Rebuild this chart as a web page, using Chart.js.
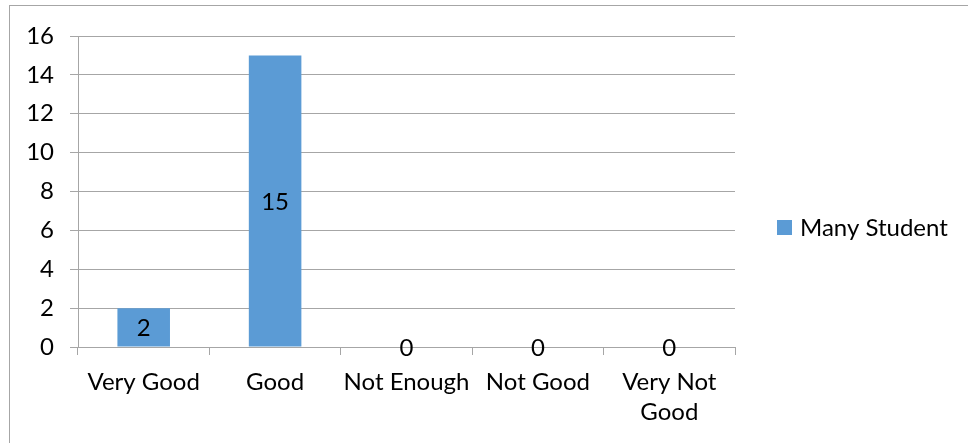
<!DOCTYPE html>
<html>
<head>
<meta charset="utf-8">
<script src="https://cdn.jsdelivr.net/npm/chart.js@4"></script>
<style>
  html, body { margin: 0; padding: 0; background: #fff; overflow: hidden; }
  #frame { position: absolute; left: 9px; top: 5px; width: 1000px; height: 500px; border: 1.5px solid #a6a6a6; box-sizing: border-box; }
  #wrap { position: absolute; left: 0; top: 0; width: 968px; height: 443px; }
</style>
</head>
<body>
<div id="frame"></div>
<div id="wrap"><canvas id="chart"></canvas></div>
<script>
// chart data
const categories = ['Very Good', 'Good', 'Not Enough', 'Not Good', ['Very Not', 'Good']];
const seriesName = 'Many Student';
const studentCounts = [2, 15, 0, 0, 0];
const yTicks = [0, 2, 4, 6, 8, 10, 12, 14, 16];

const barColor = '#5b9bd5';
const lineColor = '#a6a6a6';
const fontFamily = 'Lato, "Liberation Sans", sans-serif';
const fontSize = 24;

// value labels in the middle of each bar
const valueLabels = {
    id: 'valueLabels',
    afterDatasetsDraw(chart) {
        const ctx = chart.ctx;
        ctx.save();
        ctx.font = `${fontSize}px ${fontFamily}`;
        ctx.fillStyle = '#000';
        ctx.textAlign = 'center';
        ctx.textBaseline = 'middle';
        chart.data.datasets.forEach((ds, i) => {
            chart.getDatasetMeta(i).data.forEach((bar, j) => {
                const p = bar.getProps(['x', 'y', 'base'], true);
                ctx.fillText(String(ds.data[j]), p.x, (p.y + p.base) / 2 + 1);
            });
        });
        ctx.restore();
    }
};

// legend drawn to the right of the plot
const sideLegend = {
    id: 'sideLegend',
    afterDraw(chart) {
        const ctx = chart.ctx;
        const ds = chart.data.datasets[0];
        const x = chart.chartArea.right + 42;
        const y = 227;
        ctx.save();
        ctx.fillStyle = ds.backgroundColor;
        ctx.fillRect(x, y - 7, 15, 15);
        ctx.fillStyle = '#000';
        ctx.font = `${fontSize}px ${fontFamily}`;
        ctx.textAlign = 'left';
        ctx.textBaseline = 'middle';
        ctx.fillText(ds.label, x + 23, y + 1);
        ctx.restore();
    }
};

new Chart(document.getElementById('chart'), {
    type: 'bar',
    data: {
        labels: categories,
        datasets: [{
            label: seriesName,
            data: studentCounts,
            backgroundColor: barColor,
            borderWidth: 0,
            categoryPercentage: 1,
            barPercentage: 0.4
        }]
    },
    options: {
        responsive: true,
        maintainAspectRatio: false,
        animation: false,
        layout: { padding: { top: 36, left: 0, right: 233, bottom: 0 } },
        plugins: {
            legend: { display: false },
            tooltip: { enabled: false }
        },
        scales: {
            x: {
                afterFit(scale) { scale.height = 96; },
                grid: { display: true, drawOnChartArea: false, drawTicks: true, tickLength: 8, color: lineColor, offset: true },
                border: { color: lineColor },
                ticks: {
                    color: '#000',
                    padding: 12,
                    maxRotation: 0,
                    autoSkip: false,
                    font: { family: fontFamily, size: fontSize, lineHeight: 1.25 }
                }
            },
            y: {
                min: 0,
                max: 16,
                afterFit(scale) { scale.width = 78; },
                afterBuildTicks(scale) { scale.ticks = yTicks.map(v => ({ value: v })); },
                grid: { color: lineColor, tickLength: 8 },
                border: { color: lineColor },
                ticks: {
                    color: '#000',
                    padding: 16,
                    font: { family: fontFamily, size: fontSize }
                }
            }
        }
    },
    plugins: [valueLabels, sideLegend]
});
</script>
</body>
</html>
